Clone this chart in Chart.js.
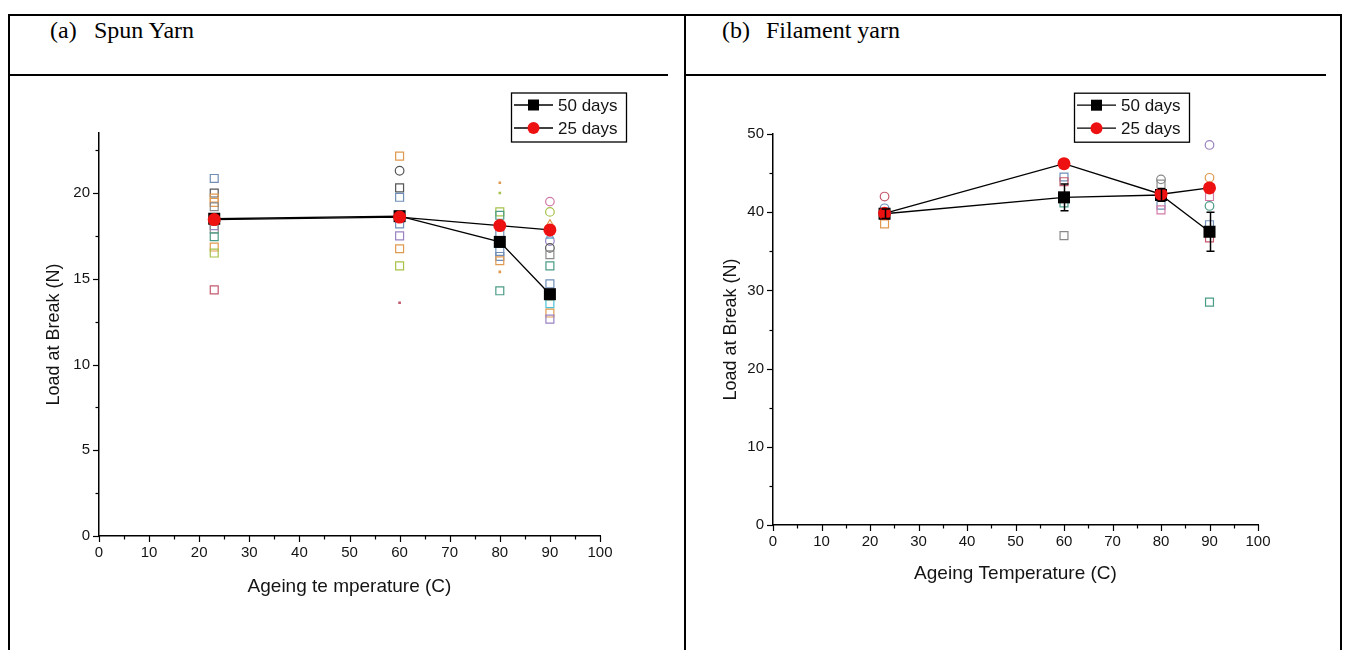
<!DOCTYPE html>
<html lang="en">
<head>
<meta charset="utf-8">
<title>Load at Break vs Ageing Temperature</title>
<script src="https://cdn.jsdelivr.net/npm/chart.js@4.4.1/dist/chart.umd.min.js"></script>
<style>
  html, body { margin: 0; padding: 0; background: #fff; }
  body { position: relative; width: 1348px; height: 650px; overflow: hidden; }
  .rule { position: absolute; background: #000; }
  .head { position: absolute; top: 17px; font: 24px "Liberation Serif", "Times New Roman", serif; color: #000; white-space: pre; }
  canvas { position: absolute; }
</style>
</head>
<body>
  <!-- table frame -->
  <div class="rule" style="left:8px; top:14px; width:1334px; height:2px"></div>
  <div class="rule" style="left:8px; top:74px; width:660px; height:2px"></div>
  <div class="rule" style="left:686px; top:74px; width:640px; height:2px"></div>
  <div class="rule" style="left:8px; top:14px; width:2px; height:640px"></div>
  <div class="rule" style="left:684px; top:14px; width:2px; height:640px"></div>
  <div class="rule" style="left:1340px; top:14px; width:2px; height:640px"></div>

  <div class="head" style="left:50px">(a)</div>
  <div class="head" style="left:94px">Spun Yarn</div>
  <div class="head" style="left:722px">(b)</div>
  <div class="head" style="left:766px">Filament yarn</div>

  <canvas id="spun" width="674" height="570" style="left:10px; top:77px"></canvas>
  <canvas id="filament" width="650" height="570" style="left:688px; top:77px"></canvas>

<script>
// Ageing temperatures (°C)
const temps = [23, 60, 80, 90];

// Spun yarn: mean load at break (N)
const spun50 = [18.5, 18.65, 17.15, 14.1];
const spun25 = [18.45, 18.6, 18.1, 17.85];

// Spun yarn: individual specimens at each temperature
const spunRep23 = [20.85, 20.0, 19.7, 19.45, 19.2, 18.1, 17.9, 17.45, 16.85, 16.5, 14.35];
const spunRep60 = [22.15, 21.3, 20.3, 19.75, 18.2, 17.5, 16.75, 15.75, 13.6];
const spunRep80 = [20.6, 20.0, 18.9, 18.7, 17.6, 16.6, 16.3, 16.05, 15.4, 14.3];
const spunRep90 = [19.5, 18.9, 18.2, 17.5, 17.2, 16.8, 16.4, 15.75, 14.7, 14.0, 13.55, 13.0, 12.65];

// Filament yarn: mean load at break (N) and spread of the 50-day means
const fil50 = [39.8, 41.9, 42.2, 37.5];
const fil50Err = [0.6, 1.7, 0.8, 2.5];
const fil25 = [39.85, 46.2, 42.3, 43.1];

// Filament yarn: individual specimens
const filRep23 = [42.0, 40.5, 38.5];
const filRep60 = [44.5, 43.9, 41.2, 37.0];
const filRep80 = [44.2, 43.6, 40.9, 40.3];
const filRep90 = [48.6, 44.4, 42.0, 40.8, 38.4, 36.7, 28.5];

// Axis tick values
const spunYTicks = [0, 5, 10, 15, 20];
const filYTicks = [0, 10, 20, 30, 40, 50];
const xTickLabels = [0, 10, 20, 30, 40, 50, 60, 70, 80, 90, 100];

// Specimen marker codes: shape letter + palette index
// s = open square, c = open circle, t = open triangle, d = small dot
const spunMark23 = ['s0', 's1', 's2', 's2', 's9', 's3', 's9', 's4', 's2', 's5', 's6'];
const spunMark60 = ['s2', 'c1', 's1', 's0', 's0', 's3', 's2', 's5', 'd6'];
const spunMark80 = ['d2', 'd5', 's5', 's4', 's0', 's0', 's0', 's2', 'd2', 's4'];
const spunMark90 = ['c8', 'c5', 't2', 't7', 'c3', 'c1', 's9', 's4', 's0', 's5', 's7', 's2', 's3'];
const filMark23 = ['c6', 'c0', 's2'];
const filMark60 = ['s0', 's6', 's4', 's9'];
const filMark80 = ['c9', 's9', 's0', 's8'];
const filMark90 = ['c3', 'c2', 's8', 'c4', 's0', 's6', 's4'];

const palette = ['#6f8fb8', '#555555', '#e09a50', '#9a82c2', '#4b9c86',
                 '#a6c24a', '#c45a6e', '#4ec0d4', '#d37aa8', '#8a8a8a'];

const FONT = '"Liberation Sans", Arial, sans-serif';
const INK = '#141414';

function specimenSet(columns) {
  const data = [], border = [], fill = [], shape = [], radius = [];
  columns.forEach(([t, vals, marks]) => {
    vals.forEach((v, i) => {
      const kind = marks[i][0];
      const col = palette[+marks[i].slice(1)];
      data.push({ x: t, y: v });
      border.push(col);
      fill.push(kind === 'd' ? col : 'rgba(255,255,255,0)');
      shape.push(kind === 'c' ? 'circle' : kind === 't' ? 'triangle' : 'rect');
      radius.push(kind === 'd' ? 1 : kind === 's' ? 5.6 : 4.3);
    });
  });
  return {
    label: 'specimens', data, showLine: false, order: 2,
    pointStyle: shape, pointRadius: radius, pointBorderColor: border,
    pointBackgroundColor: fill, pointBorderWidth: 1.2
  };
}

function meanSet(label, values, shape, color, r, order) {
  return {
    label, order, showLine: true,
    data: temps.map((t, i) => ({ x: t, y: values[i] })),
    borderColor: '#000', borderWidth: 1.3,
    pointStyle: shape, pointRadius: r, pointBorderWidth: 0,
    pointBackgroundColor: color, pointBorderColor: color
  };
}

// Tick marks: long at labelled values, short in between
function tickMarks(xMinor, yTicks, yMinor) {
  return {
    id: 'tickMarks',
    afterDraw(chart) {
      const { ctx } = chart, xs = chart.scales.x, ys = chart.scales.y;
      ctx.save();
      ctx.strokeStyle = '#000';
      ctx.lineWidth = 1.2;
      xTickLabels.forEach(v => {
        [v, v + xMinor].forEach((t, k) => {
          if (t > xs.max) return;
          const px = Math.round(xs.getPixelForValue(t)) + 0.5;
          ctx.beginPath();
          ctx.moveTo(px, ys.bottom);
          ctx.lineTo(px, ys.bottom + (k ? 3.5 : 6));
          ctx.stroke();
        });
      });
      yTicks.forEach(v => {
        [v, v + yMinor].forEach((t, k) => {
          if (t > ys.max) return;
          const py = Math.round(ys.getPixelForValue(t)) + 0.5;
          ctx.beginPath();
          ctx.moveTo(xs.left, py);
          ctx.lineTo(xs.left - (k ? 3.5 : 6), py);
          ctx.stroke();
        });
      });
      ctx.restore();
    }
  };
}

// Framed legend above the plot, right-aligned
function framedLegend(dx, dy, w, fontSize) {
  return {
    id: 'framedLegend',
    afterDraw(chart) {
      const { ctx, chartArea } = chart;
      const left = chartArea.right + dx, top = chartArea.top + dy, h = 49;
      ctx.save();
      ctx.fillStyle = '#fff';
      ctx.fillRect(left, top, w, h);
      ctx.strokeStyle = '#000';
      ctx.lineWidth = 1.3;
      ctx.strokeRect(left + 0.5, top + 0.5, w, h);
      const rows = [chart.data.datasets.find(d => d.label === '50 days'),
                    chart.data.datasets.find(d => d.label === '25 days')];
      rows.forEach((ds, i) => {
        const y = top + 12.5 + i * 23;
        ctx.strokeStyle = '#000';
        ctx.lineWidth = 1.3;
        ctx.beginPath();
        ctx.moveTo(left + 3, y);
        ctx.lineTo(left + 42, y);
        ctx.stroke();
        ctx.fillStyle = ds.pointBackgroundColor;
        ctx.beginPath();
        if (ds.pointStyle === 'rect') ctx.rect(left + 17, y - 5.5, 11, 11);
        else ctx.arc(left + 22.5, y, 6, 0, Math.PI * 2);
        ctx.fill();
        ctx.fillStyle = INK;
        ctx.font = fontSize + 'px ' + FONT;
        ctx.textBaseline = 'middle';
        ctx.fillText(ds.label, left + 47, y + 1);
      });
      ctx.restore();
    }
  };
}

// Vertical spread bars for a mean series
function spreadBars(values, spread) {
  return {
    id: 'spreadBars',
    afterDatasetsDraw(chart) {
      const { ctx } = chart, xs = chart.scales.x, ys = chart.scales.y;
      ctx.save();
      ctx.strokeStyle = '#000';
      ctx.lineWidth = 1.5;
      values.forEach((v, i) => {
        const x = Math.round(xs.getPixelForValue(temps[i])) + 0.5;
        const y1 = ys.getPixelForValue(v + spread[i]);
        const y2 = ys.getPixelForValue(v - spread[i]);
        ctx.beginPath();
        ctx.moveTo(x, y1); ctx.lineTo(x, y2);
        ctx.moveTo(x - 4, y1); ctx.lineTo(x + 4, y1);
        ctx.moveTo(x - 4, y2); ctx.lineTo(x + 4, y2);
        ctx.stroke();
      });
      ctx.restore();
    }
  };
}

function axisOptions(cfg) {
  return {
    x: {
      type: 'linear', min: 0, max: 100,
      grid: { display: false, drawTicks: false },
      border: { display: true, color: '#000', width: 1.5 },
      ticks: {
        stepSize: 10, padding: 8, color: INK, autoSkip: false, maxRotation: 0,
        font: { family: FONT, size: 15 }
      },
      afterBuildTicks: s => { s.ticks = xTickLabels.map(v => ({ value: v })); },
      title: {
        display: true, text: cfg.xTitle, color: INK,
        font: { family: FONT, size: 19 }, padding: { top: 0, bottom: cfg.xTitlePad }
      },
      afterFit: s => { s.height = 70; }
    },
    y: {
      type: 'linear', min: 0, max: cfg.yMax,
      grid: { display: false, drawTicks: false },
      border: { display: true, color: '#000', width: 1.5 },
      ticks: {
        padding: 9, color: INK, autoSkip: false,
        font: { family: FONT, size: 15 }
      },
      afterBuildTicks: s => { s.ticks = cfg.yTicks.map(v => ({ value: v })); },
      title: {
        display: true, text: 'Load at Break (N)', color: INK,
        font: { family: FONT, size: 18 }, padding: { top: cfg.yTitlePad, bottom: 0 }
      },
      afterFit: s => { s.width = 60; }
    }
  };
}

function plot(id, cfg) {
  return new Chart(document.getElementById(id), {
    type: 'scatter',
    data: { datasets: cfg.datasets },
    options: {
      responsive: false, animation: false, events: [],
      layout: { padding: cfg.padding },
      plugins: { legend: { display: false }, tooltip: { enabled: false } },
      scales: axisOptions(cfg)
    },
    plugins: cfg.plugins
  });
}

// (a) Spun yarn
plot('spun', {
  datasets: [
    meanSet('25 days', spun25, 'circle', '#ee1111', 6.5, 0),
    meanSet('50 days', spun50, 'rect', '#000000', 8.5, 1),
    specimenSet([[23, spunRep23, spunMark23], [60, spunRep60, spunMark60],
                 [80, spunRep80, spunMark80], [90, spunRep90, spunMark90]])
  ],
  padding: { left: 29, top: 56, right: 84, bottom: 41 },
  yMax: 23.5, yTicks: spunYTicks,
  xTitle: 'Ageing te mperature (C)', xTitlePad: 8, yTitlePad: 4,
  plugins: [tickMarks(5, spunYTicks, 2.5), framedLegend(-89, -40.5, 115, 17)]
});

// (b) Filament yarn
plot('filament', {
  datasets: [
    meanSet('25 days', fil25, 'circle', '#ee1111', 6.5, 0),
    meanSet('50 days', fil50, 'rect', '#000000', 8.5, 1),
    specimenSet([[23, filRep23, filMark23], [60, filRep60, filMark60],
                 [80, filRep80, filMark80], [90, filRep90, filMark90]])
  ],
  padding: { left: 25, top: 57, right: 80, bottom: 52 },
  yMax: 50, yTicks: filYTicks,
  xTitle: 'Ageing Temperature (C)', xTitlePad: 10, yTitlePad: 7,
  plugins: [tickMarks(5, filYTicks, 5), spreadBars(fil50, fil50Err), framedLegend(-184, -41.3, 115, 17)]
});
</script>
</body>
</html>
